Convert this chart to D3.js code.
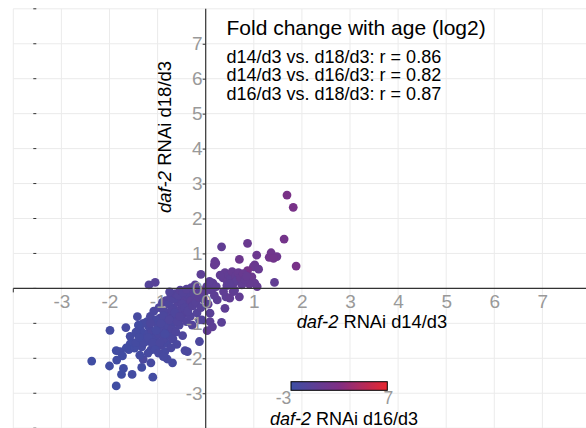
<!DOCTYPE html>
<html>
<head>
<meta charset="utf-8">
<script src="https://cdn.jsdelivr.net/npm/d3@7"></script>
<style>
  body { margin: 0; background: #fff; }
  svg { display: block; font-family: "Liberation Sans", Arial, sans-serif; }
</style>
</head>
<body>
<script>
// Each point is [d14/d3, d18/d3, d16/d3] fold change (log2)
var lowerTail = [
  [-2.37,-2.08,-2.7],[-2.00,-2.22,-2.6],[-1.86,-2.79,-2.7],[-1.99,-1.20,-2.4],[-1.66,-1.12,-2.3],
  [-1.42,-0.81,-2.2],[-1.57,-1.37,-2.4],[-1.86,-1.78,-2.6],[-1.78,-1.81,-2.5],[-1.73,-1.93,-2.6],
  [-1.85,-2.05,-2.6],[-1.71,-2.29,-2.6],[-1.75,-2.46,-2.7],[-1.53,-2.46,-2.5],[-1.33,-2.26,-2.5],
  [-1.10,-2.54,-2.5],[-1.14,-2.13,-2.3],[-1.30,-2.03,-1.9],[-1.37,-1.91,-2.4],[-1.33,-1.67,-2.3],
  [-1.50,-1.57,-2.4],[-1.14,-1.76,-2.2],[-1.16,-1.52,-2.2],[-1.30,-1.43,-2.3],[-1.40,-1.33,-2.2],
  [-1.07,-1.67,-2.1],[-1.48,-1.71,-2.5],[-1.57,-1.59,-2.5],[-1.60,-1.75,-2.5],[-1.65,-1.70,-2.6],
  [-1.45,-1.55,-2.4],[-1.20,-1.85,-2.3],[-0.85,-1.81,-2.2],[-0.92,-1.62,-2.0],[-0.81,-1.57,-2.1],
  [-0.69,-2.13,-2.3],[-0.80,-2.02,-2.2],[-0.38,-1.81,-2.0],[-0.13,-1.52,-1.8],[-0.43,-1.78,-1.9]
];

var mainCluster = [
  [-1.25,-1.30,-2.2],[-1.18,-1.10,-2.1],[-1.12,-1.25,-2.0],[-1.05,-1.40,-2.1],[-1.00,-1.05,-1.9],
  [-0.98,-1.30,-2.0],[-0.95,-0.85,-1.8],[-0.92,-1.15,-1.9],[-0.88,-1.45,-1.9],[-0.85,-0.95,-1.7],
  [-0.82,-1.25,-1.8],[-0.80,-0.70,-1.6],[-0.78,-1.05,-1.9],[-0.75,-1.35,-2.0],[-0.72,-0.85,-1.5],
  [-0.70,-1.15,-1.7],[-0.68,-0.55,-1.6],[-0.65,-0.95,-1.8],[-0.62,-1.25,-1.6],[-0.60,-0.75,-1.4],
  [-0.58,-0.40,-1.3],[-0.55,-1.05,-1.6],[-0.52,-0.60,-1.3],[-0.50,-0.85,-1.5],[-0.48,-1.35,-1.7],
  [-0.45,-0.30,-1.1],[-0.42,-0.70,-1.2],[-0.40,-0.95,-1.4],[-0.38,-0.50,-1.0],[-0.35,-0.20,-1.2],
  [-0.32,-0.80,-1.3],[-0.30,-0.35,-0.9],[-1.22,-0.95,-2.2],[-1.15,-0.80,-2.0],[-1.08,-0.65,-1.9],
  [-1.02,-0.90,-2.1],[-0.97,-0.55,-1.6],[-0.90,-0.40,-1.5],[-0.87,-0.65,-1.7],[-0.83,-0.35,-1.4],
  [-0.77,-0.45,-1.6],[-0.73,-0.25,-1.3],[-0.66,-0.30,-1.5],[-0.63,-0.15,-1.2],[-0.57,-0.20,-1.3],
  [-0.53,-0.05,-1.1],[-0.47,-0.12,-1.2],[-1.28,-1.55,-2.3],[-1.20,-1.40,-2.2],[-1.10,-1.55,-2.1],
  [-1.03,-1.20,-2.2],[-0.93,-1.00,-1.9],[-0.88,-0.78,-1.8],[-0.76,-0.90,-1.6],[-0.71,-0.62,-1.5],
  [-0.64,-0.70,-1.7],[-0.59,-0.95,-1.5],[-0.54,-0.80,-1.4],[-0.49,-0.45,-1.3],[-0.44,-0.55,-1.4],
  [-0.37,-0.65,-1.3],[-0.27,-0.50,-1.1],[-0.24,-0.15,-1.0],[-0.20,-0.40,-1.0],[-0.18,-0.70,-1.2],
  [-0.15,-0.25,-0.8],[-0.12,-0.05,-0.7],[-0.10,-0.55,-1.0],[-0.08,-0.90,-1.2],[-0.05,-0.30,-0.9],
  [-0.02,-0.10,-0.6],[-1.35,-1.20,-2.4],[-1.30,-1.00,-2.3],[-1.40,-1.05,-2.5],[-1.45,-1.25,-2.4],
  [-1.15,-1.00,-1.8],[-0.95,-1.55,-2.0],[-0.85,-1.30,-2.2],[-0.68,-1.45,-1.8],[-0.60,-1.60,-1.9],
  [-1.05,-1.75,-2.3],[-0.98,-1.85,-2.1],[-0.88,-1.95,-2.2],[-0.72,-1.70,-2.0],[-1.38,-1.40,-2.4]
];

var nearOrigin = [
  [-1.18,0.10,-1.2],[-1.05,0.17,-1.0],[-0.10,0.40,-0.5],[-0.30,0.02,-0.9],[-0.22,0.10,-0.8],
  [-0.40,-0.02,-1.0],[-0.75,-0.10,-1.4],[-0.28,-1.05,-1.3],[-0.13,-0.90,-1.3],[0.03,-1.21,-0.2],
  [0.14,-1.10,-0.5],[0.09,-0.95,-0.6],[0.33,-0.97,-0.7],[0.24,-0.33,-0.6],[0.09,-0.71,-0.8],
  [0.40,-0.57,-0.4],[0.42,-0.24,-0.5],[0.50,-0.28,-0.3],[0.70,-0.24,-0.2],[0.57,-0.09,-0.3],
  [0.37,-0.09,-0.4],[0.12,-0.05,-0.6],[0.05,-0.45,-0.7],[0.18,-0.20,-0.6],[0.02,0.05,-0.5],
  [0.15,0.15,-0.4],[0.22,0.05,-0.5],[0.08,0.20,-0.6]
];

var upperCluster = [
  [0.33,1.19,-0.3],[0.19,0.77,0.1],[0.18,0.67,0.0],[0.21,0.72,0.1],[0.70,0.83,0.6],
  [1.06,0.95,0.5],[1.36,1.02,0.8],[1.32,0.89,0.9],[1.48,0.91,0.7],[1.41,0.86,1.0],
  [1.88,0.64,1.4],[1.02,0.67,0.3],[0.99,0.62,0.4],[0.87,0.51,1.2],[0.96,0.33,0.5],
  [1.02,0.15,0.1],[1.07,0.05,0.0],[1.43,0.17,-0.3],[0.91,0.12,0.0],[0.36,0.30,-0.2],
  [0.40,0.45,-0.1],[0.45,0.20,-0.2],[0.48,0.38,-0.3],[0.52,0.28,-0.4],[0.55,0.48,0.0],
  [0.58,0.15,-0.3],[0.62,0.35,-0.1],[0.65,0.22,-0.5],[0.68,0.45,0.1],[0.72,0.30,0.0],
  [0.75,0.10,-0.2],[0.78,0.42,0.2],[0.82,0.25,-0.1],[0.44,0.08,-0.5],[0.30,0.38,-0.3],
  [0.60,-0.05,-0.4],[0.85,0.35,0.1],[0.50,0.12,-0.6],[1.69,2.67,1.5],[1.82,2.32,1.4],
  [1.63,1.41,1.1],[0.87,1.29,0.4],[1.10,0.55,0.2]
];

var tickValues = [-3, -2, -1, 0, 1, 2, 3, 4, 5, 6, 7];
var gridValues = [-4, -3, -2, -1, 0, 1, 2, 3, 4, 5, 6, 7, 8];
var colorLimits = [-3, 7];
var titleText = "Fold change with age (log2)";
var corrLines = [
  "d14/d3 vs. d18/d3: r = 0.86",
  "d14/d3 vs. d16/d3: r = 0.82",
  "d16/d3 vs. d18/d3: r = 0.87"
];

var width = 586, height = 428;

var svg = d3.select("body").append("svg")
  .attr("width", width)
  .attr("height", height);

var xScale = d3.scaleLinear().domain([-4, 8]).range([13.3, 590.5]);
var yScale = d3.scaleLinear().domain([-4, 8]).range([428.2, 8.8]);

// blue -> purple -> red, the purple stop keeps the middle of the bar saturated
var color = d3.scaleLinear()
  .domain([colorLimits[0], 2, colorLimits[1]])
  .range(["#3c4fa5", "#802e84", "#e8262e"])
  .clamp(true);

// grid lines
svg.append("g").selectAll("line.vg")
  .data(gridValues)
  .enter().append("line")
  .attr("x1", function(d) { return xScale(d); })
  .attr("x2", function(d) { return xScale(d); })
  .attr("y1", yScale(8))
  .attr("y2", yScale(-4))
  .attr("stroke", "#ebebeb")
  .attr("stroke-width", 1);

svg.append("g").selectAll("line.hg")
  .data(gridValues)
  .enter().append("line")
  .attr("x1", xScale(-4))
  .attr("x2", width)
  .attr("y1", function(d) { return yScale(d); })
  .attr("y2", function(d) { return yScale(d); })
  .attr("stroke", "#ebebeb")
  .attr("stroke-width", 1);

// little dashes on the far left
svg.append("g").selectAll("line")
  .data(gridValues)
  .enter().append("line")
  .attr("x1", 33.3)
  .attr("x2", 36.3)
  .attr("y1", function(d) { return yScale(d); })
  .attr("y2", function(d) { return yScale(d); })
  .attr("stroke", "#333")
  .attr("stroke-width", 1);

// points
var allPoints = lowerTail.concat(mainCluster, nearOrigin, upperCluster);
svg.append("g").selectAll("circle")
  .data(allPoints)
  .enter().append("circle")
  .attr("cx", function(d) { return xScale(d[0]); })
  .attr("cy", function(d) { return yScale(d[1]); })
  .attr("r", 4.4)
  .attr("fill", function(d) { return color(d[2]); });

// axes through the origin
var x0 = xScale(0), y0 = yScale(0);

svg.append("line")
  .attr("x1", xScale(-4)).attr("x2", width)
  .attr("y1", y0).attr("y2", y0)
  .attr("stroke", "#333").attr("stroke-width", 1.2);

svg.append("line")
  .attr("x1", x0).attr("x2", x0)
  .attr("y1", yScale(8)).attr("y2", yScale(-4))
  .attr("stroke", "#333").attr("stroke-width", 1.2);

svg.append("line")
  .attr("x1", xScale(-4)).attr("x2", xScale(-4))
  .attr("y1", y0).attr("y2", y0 + 4)
  .attr("stroke", "#333").attr("stroke-width", 1);

var plain = function(d) { return String(d); };
var xAxis = d3.axisBottom(xScale).tickValues(tickValues).tickFormat(plain).tickSize(0).tickPadding(6);
var yAxis = d3.axisLeft(yScale).tickValues(tickValues).tickFormat(plain).tickSize(3).tickPadding(0);

var gx = svg.append("g")
  .attr("transform", "translate(0," + y0 + ")")
  .call(xAxis);
var gy = svg.append("g")
  .attr("transform", "translate(" + x0 + ",0)")
  .call(yAxis);

[gx, gy].forEach(function(g) {
  g.select(".domain").remove();
  g.selectAll(".tick line").attr("stroke", "#333");
  g.selectAll(".tick text")
    .attr("fill", "#999")
    .style("font-size", "19px")
    .style("font-family", "Liberation Sans, Arial, sans-serif");
});

// axis titles
var yTitle = svg.append("text")
  .attr("transform", "translate(171," + 137 + ") rotate(-90)")
  .attr("text-anchor", "middle")
  .style("font-size", "18.5px");
yTitle.append("tspan").style("font-style", "italic").text("daf-2");
yTitle.append("tspan").text(" RNAi d18/d3");

var xTitle = svg.append("text")
  .attr("x", 296.7)
  .attr("y", 328)
  .style("font-size", "18.3px");
xTitle.append("tspan").style("font-style", "italic").text("daf-2");
xTitle.append("tspan").text(" RNAi d14/d3");

// title and correlations
svg.append("text")
  .attr("x", 226.5)
  .attr("y", 35)
  .style("font-size", "21px")
  .text(titleText);

svg.selectAll("text.corr")
  .data(corrLines)
  .enter().append("text")
  .attr("class", "corr")
  .attr("x", 226.5)
  .attr("y", function(d, i) { return 62.5 + i * 18.5; })
  .style("font-size", "18px")
  .text(function(d) { return d; });

// colour bar legend
var legendScale = d3.scaleLinear().domain(colorLimits).range([291, 387.3]);

var defs = svg.append("defs");
var grad = defs.append("linearGradient").attr("id", "cbar");
d3.range(0, 1.0001, 0.1).forEach(function(t) {
  grad.append("stop")
    .attr("offset", t)
    .attr("stop-color", color(colorLimits[0] + t * (colorLimits[1] - colorLimits[0])));
});

svg.append("rect")
  .attr("x", legendScale(colorLimits[0]))
  .attr("y", 381.7)
  .attr("width", legendScale(colorLimits[1]) - legendScale(colorLimits[0]))
  .attr("height", 8.6)
  .attr("fill", "url(#cbar)")
  .attr("stroke", "#000")
  .attr("stroke-width", 1);

svg.selectAll("text.leg")
  .data(colorLimits)
  .enter().append("text")
  .attr("class", "leg")
  .attr("x", function(d, i) { return legendScale(d) + (i == 0 ? -7.5 : 1); })
  .attr("y", 404)
  .attr("text-anchor", "middle")
  .attr("fill", "#999")
  .style("font-size", "17.5px")
  .text(function(d) { return d; });

var lTitle = svg.append("text")
  .attr("x", 270)
  .attr("y", 424.5)
  .style("font-size", "18px");
lTitle.append("tspan").style("font-style", "italic").text("daf-2");
lTitle.append("tspan").text(" RNAi d16/d3");
</script>
</body>
</html>
